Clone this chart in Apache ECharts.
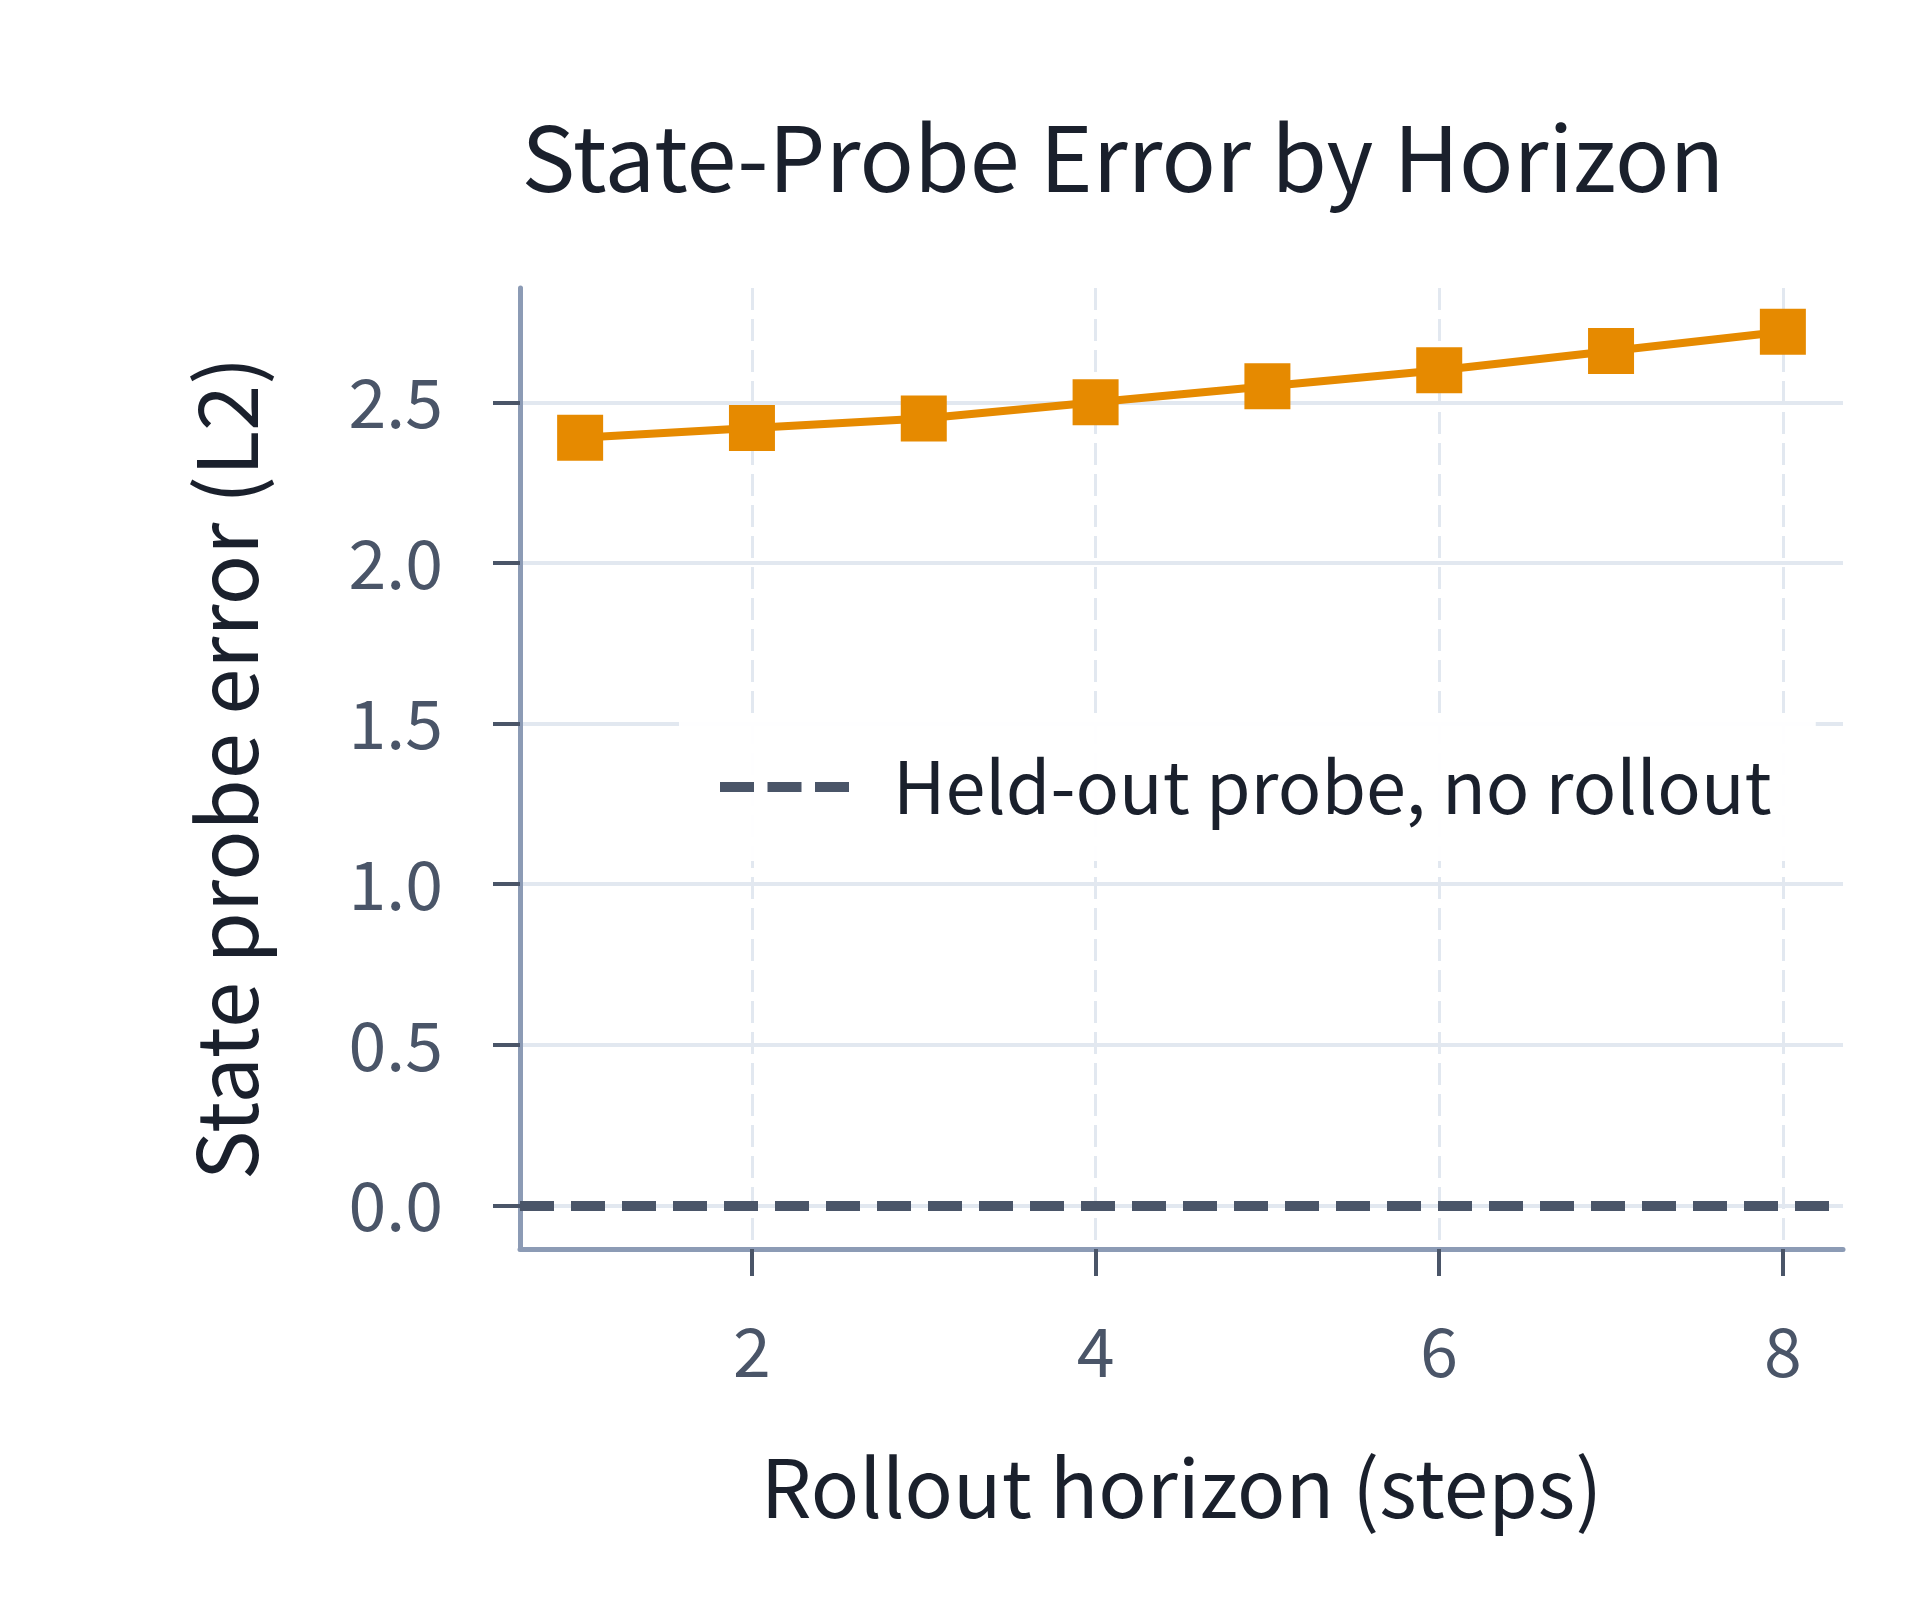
<!DOCTYPE html>
<html>
<head>
<meta charset="utf-8">
<script src="https://cdn.jsdelivr.net/npm/echarts@6/dist/echarts.min.js"></script>
<style>
html,body{margin:0;padding:0;background:#fff;}
#chart{width:1920px;height:1600px;}
</style>
</head>
<body>
<div id="chart"></div>
<script>
// ---- data ----
const titleText = 'State-Probe Error by Horizon';
const xAxisName = 'Rollout horizon (steps)';
const yAxisName = 'State probe error (L2)';
const horizons = [1, 2, 3, 4, 5, 6, 7, 8];
const probeError = [2.39, 2.42, 2.45, 2.50, 2.55, 2.60, 2.66, 2.72];
const heldOutName = 'Held-out probe, no rollout';
const heldOutError = 0;
const xTicks = [2, 4, 6, 8];
const yTicks = [0, 0.5, 1.0, 1.5, 2.0, 2.5];
const xRange = [0.65, 8.35];
const yRange = [-0.136, 2.856];

const FONT = '"Noto Sans CJK KR", "Noto Sans", sans-serif';
const chart = echarts.init(document.getElementById('chart'));

chart.setOption({
  animation: false,
  backgroundColor: '#ffffff',
  title: {
    text: titleText,
    left: 1118,
    textAlign: 'center',
    top: 106,
    textStyle: {fontFamily: FONT, fontSize: 90, fontWeight: 'normal', color: '#1a202c', lineHeight: 94}
  },
  grid: {left: 520, right: 77, top: 288, bottom: 351, containLabel: false},
  legend: {
    data: [{name: heldOutName, icon: 'path://M0,0h34v10h-34z M47.5,0h34v10h-34z M95,0h34v10h-34z'}],
    left: 679,
    top: 713,
    orient: 'horizontal',
    padding: [30, 44, 30, 41],
    backgroundColor: 'rgba(255,255,255,0.95)',
    itemWidth: 129,
    itemHeight: 10,
    itemStyle: {color: '#4a5568'},
    textStyle: {fontFamily: FONT, fontSize: 72, color: '#1a202c', padding: [0, 0, 0, 39], lineHeight: 88},
    selectedMode: false
  },
  xAxis: {
    type: 'value',
    min: xRange[0],
    max: xRange[1],
    name: xAxisName,
    nameLocation: 'middle',
    nameGap: 192,
    nameTextStyle: {fontFamily: FONT, fontSize: 80, color: '#1a202c', lineHeight: 94},
    axisLine: {show: true, onZero: false, lineStyle: {color: '#8c9bb5', width: 5}},
    axisTick: {show: true, customValues: xTicks, length: 27, lineStyle: {color: '#4a5568', width: 4}},
    axisLabel: {customValues: xTicks, margin: 62, fontFamily: FONT, fontSize: 68, color: '#4a5568', lineHeight: 80},
    splitLine: {show: true, lineStyle: {color: '#e2e8f0', width: 3, type: [22, 9]}}
  },
  yAxis: {
    type: 'value',
    min: yRange[0],
    max: yRange[1],
    name: yAxisName,
    nameLocation: 'middle',
    nameGap: 245,
    nameRotate: 90,
    nameTextStyle: {fontFamily: FONT, fontSize: 83, color: '#1a202c', lineHeight: 98},
    axisLine: {show: true, onZero: false, lineStyle: {color: '#8c9bb5', width: 5}},
    axisTick: {show: true, customValues: yTicks, length: 27, lineStyle: {color: '#4a5568', width: 4}},
    axisLabel: {customValues: yTicks, margin: 77, fontFamily: FONT, fontSize: 68, color: '#4a5568',
      formatter: v => v.toFixed(1)},
    splitLine: {show: true, lineStyle: {color: '#e2e8f0', width: 4}}
  },
  series: [
    {
      name: 'Probe error',
      type: 'line',
      data: horizons.map((h, i) => [h, probeError[i]]),
      symbol: 'rect',
      symbolSize: 46,
      itemStyle: {color: '#e68a00'},
      lineStyle: {color: '#e68a00', width: 8},
      z: 3
    },
    {
      name: heldOutName,
      type: 'line',
      data: [],
      symbol: 'none',
      itemStyle: {color: '#4a5568'},
      lineStyle: {color: '#4a5568', width: 10, type: [34, 17]},
      markLine: {
        silent: true,
        symbol: ['none', 'none'],
        label: {show: false},
        lineStyle: {color: '#4a5568', width: 10, type: [34, 17]},
        data: [{yAxis: heldOutError}]
      },
      z: 4
    }
  ]
});
</script>
</body>
</html>
